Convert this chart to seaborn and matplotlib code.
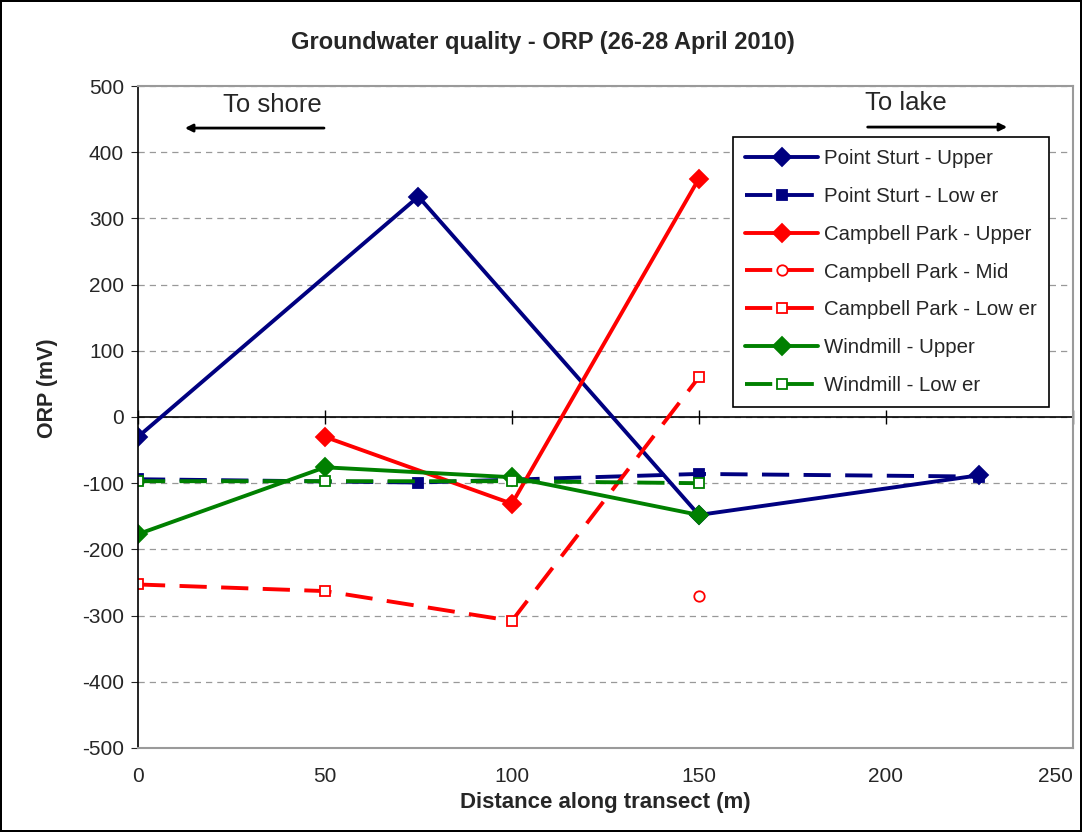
import numpy as np
import pandas as pd
import matplotlib
matplotlib.use('Agg')
import matplotlib.pyplot as plt
import seaborn as sns

#%% DATA

dist_ps = [0, 75, 150, 225]
ps_upper = [-30, 333, -148, -88]
ps_lower = [-94, -99, -86, -90]

dist_cp_upper = [50, 100, 150]
cp_upper = [-30, -131, 360]
dist_cp_mid = [150]
cp_mid = [-271]
dist_cp_lower = [0, 50, 100, 150]
cp_lower = [-253, -263, -308, 60]

dist_wm = [0, 50, 100, 150]
wm_upper = [-177, -76, -91, -148]
wm_lower = [-97, -97, -97, -100]

x_ticks = [0, 50, 100, 150, 200, 250]
y_ticks = list(range(-500, 501, 100))

#%% PLOT

sns.set_style('white')
plt.rcParams['font.family'] = ['Liberation Sans', 'DejaVu Sans']
plt.rcParams['axes.unicode_minus'] = False

fig = plt.figure(figsize=(10.82, 8.32), dpi=100)
fig.patch.set_edgecolor('black')
fig.patch.set_linewidth(1.5)
ax = fig.add_axes([0.1275, 0.101, 0.864, 0.7956])

navy = '#000080'
red = '#ff0000'
green = '#008000'
lw = 2.8
dash = (0, (7, 3.7))

series = [
    ('Point Sturt - Upper', dist_ps, ps_upper, navy, 'D', '-', navy, 9.5),
    ('Point Sturt - Low er', dist_ps, ps_lower, navy, 's', dash, navy, 7.5),
    ('Campbell Park - Upper', dist_cp_upper, cp_upper, red, 'D', '-', red, 9.5),
    ('Campbell Park - Mid', dist_cp_mid, cp_mid, red, 'o', dash, 'white', 7.5),
    ('Campbell Park - Low er', dist_cp_lower, cp_lower, red, 's', dash, 'white', 7.5),
    ('Windmill - Upper', dist_wm, wm_upper, green, 'D', '-', green, 9.5),
    ('Windmill - Low er', dist_wm, wm_lower, green, 's', dash, 'white', 7.5),
]

for name, xs, ys, col, mk, ls, face, ms in series:
    df = pd.DataFrame({'x': xs, 'y': ys})
    sns.lineplot(data=df, x='x', y='y', ax=ax, color=col, marker=mk,
                 linestyle=ls, linewidth=lw, markersize=ms,
                 markerfacecolor=face, markeredgecolor=col,
                 markeredgewidth=1.3, label=name)

ax.set_xlim(0, 250)
ax.set_ylim(-500, 500)
ax.set_xticks(x_ticks)
ax.set_yticks(y_ticks)
ax.tick_params(axis='x', length=0, labelsize=15, pad=14)
ax.tick_params(axis='y', length=5, direction='out', labelsize=15, pad=5, left=True)
ax.get_xticklabels()[-1].set_ha('right')
ax.yaxis.grid(True, linestyle=(0, (5, 4)), color='#999999', linewidth=0.9)
ax.set_axisbelow(True)

for s in ['top', 'right', 'bottom']:
    ax.spines[s].set_color('#9a9a9a')
    ax.spines[s].set_linewidth(1.5)
ax.spines['left'].set_color('black')
ax.spines['left'].set_linewidth(1.2)

# zero line acts as the x axis, with tick marks crossing it
ax.axhline(0, color='black', linewidth=1.2, zorder=1.5)
zax = ax.secondary_xaxis(0.5)
zax.set_xticks(x_ticks)
zax.tick_params(axis='x', direction='inout', length=10, width=1, labelbottom=False,
                labeltop=False, color='black')
zax.spines['top'].set_visible(False)
zax.spines['bottom'].set_visible(False)

ax.set_xlabel('Distance along transect (m)', fontsize=16, fontweight='bold', labelpad=4)
ax.set_ylabel('ORP (mV)', fontsize=15.5, fontweight='bold')
ax.yaxis.set_label_coords(-0.085, 0.544)
fig.text(0.502, 0.9495, 'Groundwater quality - ORP (26-28 April 2010)', fontsize=17,
         fontweight='bold', ha='center', va='center')

# direction annotations
ax.text(36, 471, 'To shore', fontsize=18.5, ha='center', va='center')
ax.annotate('', xy=(11.8, 436.5), xytext=(50.5, 436.5),
            arrowprops=dict(arrowstyle='-|>', color='black', lw=2, mutation_scale=11))
ax.text(205.3, 474, 'To lake', fontsize=18.5, ha='center', va='center')
ax.annotate('', xy=(233.2, 438), xytext=(194.4, 438),
            arrowprops=dict(arrowstyle='-|>', color='black', lw=2, mutation_scale=11))

leg = ax.legend(loc='upper left', bbox_to_anchor=(0.636, 0.923), fontsize=14.7,
                frameon=True, fancybox=False, edgecolor='black', framealpha=1,
                borderpad=0.6, labelspacing=0.92, handlelength=3.6, handletextpad=0.3,
                borderaxespad=0)
leg.get_frame().set_linewidth(1.2)

fig.savefig('out.png', dpi=100)
